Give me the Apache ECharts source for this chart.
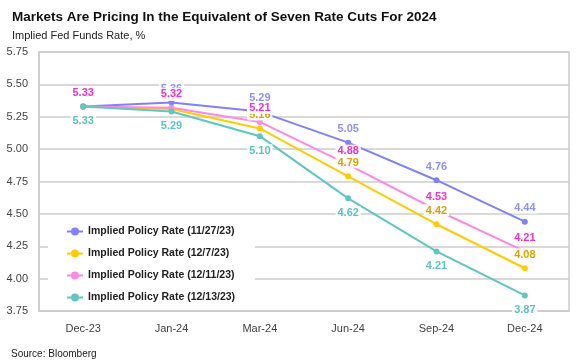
<!DOCTYPE html>
<html><head><meta charset="utf-8">
<script src="https://cdn.jsdelivr.net/npm/echarts@6/dist/echarts.min.js"></script>
<style>html,body{margin:0;padding:0;background:#fff}#c{width:578px;height:362px}</style>
</head><body><div id="c"></div>
<script>
var categories = ['Dec-23','Jan-24','Mar-24','Jun-24','Sep-24','Dec-24'];
var seriesNames = ['Implied Policy Rate (11/27/23)','Implied Policy Rate (12/7/23)','Implied Policy Rate (12/11/23)','Implied Policy Rate (12/13/23)'];
var rate1127 = [5.33, 5.36, 5.29, 5.05, 4.76, 4.44];
var rate1207 = [5.33, 5.31, 5.16, 4.79, 4.42, 4.08];
var rate1211 = [5.33, 5.32, 5.21, 4.88, 4.53, 4.21];
var rate1213 = [5.33, 5.29, 5.10, 4.62, 4.21, 3.87];
var yTicks = [3.75, 4.00, 4.25, 4.50, 4.75, 5.00, 5.25, 5.50, 5.75];

var lineColors = ['#8080ff','#ffcc00','#ff88e0','#5cc8c0'];
var labelColors = ['#9090ff','#d4a800','#f032c8','#5cc4be'];
var labelPos = ['top','top','top','bottom'];
var dataSets = [rate1127, rate1207, rate1211, rate1213];
var narrow = '"Liberation Sans Narrow","Arial Narrow","Liberation Sans",Arial,sans-serif';
var sans = '"Liberation Sans",Arial,sans-serif';

var series = dataSets.map(function(d,i){
  return {
    name: seriesNames[i], type:'line', data:d,
    symbol:'circle', symbolSize:6,
    lineStyle:{color:lineColors[i], width:2},
    itemStyle:{color:lineColors[i]},
    label:{show:true, position:labelPos[i], distance:5,
      formatter:function(p){return p.value.toFixed(2);},
      color:labelColors[i], fontSize:11, fontWeight:'bold',
      fontFamily:sans,
      backgroundColor:'rgba(255,255,255,0.85)', padding:[1,2,0,2]},
    emphasis:{disabled:true}, animation:false
  };
});

var chart = echarts.init(document.getElementById('c'), null, {renderer:'canvas'});
chart.setOption({
  animation:false,
  title:[
    {text:'Markets Are Pricing In the Equivalent of Seven Rate Cuts For 2024', left:7, top:5,
     textStyle:{fontFamily:sans, fontSize:13.5, fontWeight:'bold', color:'#111'}},
    {text:'Implied Fed Funds Rate, %', left:7, top:25,
     textStyle:{fontFamily:sans, fontSize:11, fontWeight:'normal', color:'#222'}},
    {text:'Source: Bloomberg', left:6, top:344,
     textStyle:{fontFamily:sans, fontSize:10, fontWeight:'normal', color:'#222'}}
  ],
  grid:{left:39, right:9, top:52, bottom:51, show:true, borderColor:'#cccccc', borderWidth:1.5},
  legend:{orient:'vertical', left:48, top:223, itemGap:11, itemWidth:16, itemHeight:10,
    padding:[3,20,3,18], backgroundColor:'#ffffff',
    data:seriesNames,
    textStyle:{fontFamily:sans, fontSize:10.5, fontWeight:'bold', color:'#222'}},
  xAxis:{type:'category', data:categories, boundaryGap:true,
    axisLine:{show:true, lineStyle:{color:'#cccccc', width:1.5}},
    axisTick:{show:false},
    axisLabel:{margin:12, color:'#444', fontSize:11, fontFamily:narrow}},
  yAxis:{type:'value', min:yTicks[0], max:yTicks[yTicks.length-1], interval:0.25,
    axisLine:{show:true, lineStyle:{color:'#cccccc', width:1.5}},
    axisTick:{show:false},
    splitLine:{lineStyle:{color:'#cccccc', width:1.5}},
    axisLabel:{margin:11, color:'#444', fontSize:11, fontFamily:narrow,
      formatter:function(v){return v.toFixed(2);}}},
  series:series
});
</script></body></html>
